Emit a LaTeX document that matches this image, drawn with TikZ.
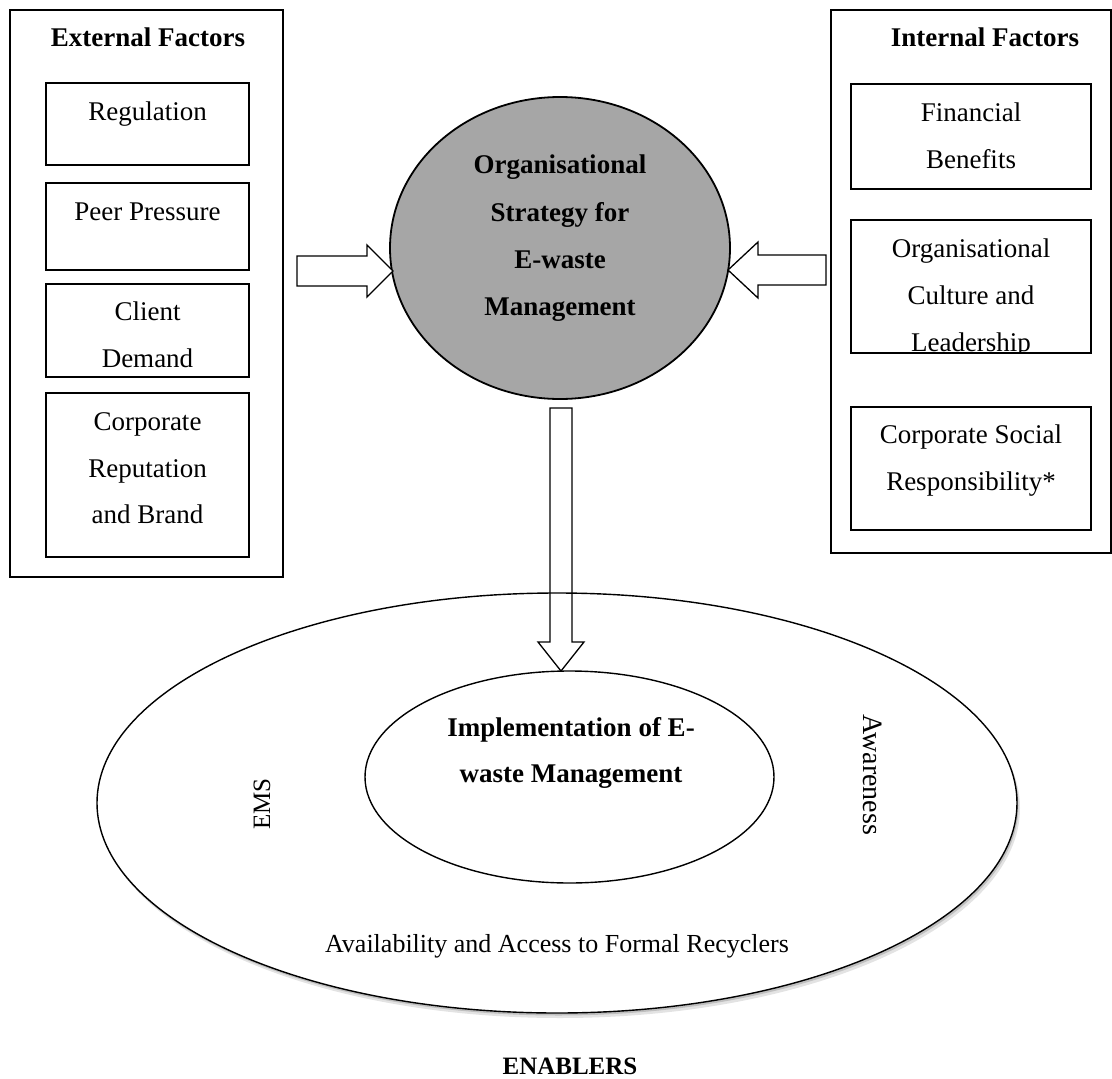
\documentclass[tikz,border=0pt]{standalone}
\usepackage{fontspec}
\setmainfont{Liberation Serif}
\usetikzlibrary{shapes.geometric}
\definecolor{stratgray}{RGB}{166,166,166}
\begin{document}
\begin{tikzpicture}[x=1pt,y=-1pt,
  frame/.style={draw, line width=1.8pt, inner sep=0pt},
  itembox/.style={draw, line width=1.4pt, inner sep=0pt},
  txt/.style={font=\fontsize{27}{47}\selectfont, inner sep=0pt, anchor=base},
  btxt/.style={txt, font=\fontsize{27}{47}\selectfont\bfseries},
  blockarrow/.style={draw, line width=1.3pt, fill=white, line join=miter},
  ring/.style={ellipse, inner sep=0pt, line width=1.4pt},
]
\useasboundingbox (0,0) rectangle (1112,1079);

% ---------- external factors ----------
\node[frame, minimum width=273pt, minimum height=567pt] (ext) at (146.5,293.5) {};
\node[btxt] (extT) at (148,46) {External Factors};
\node[itembox, minimum width=203pt, minimum height=82pt] (reg) at (147.5,124) {};
\node[txt] (regT) at (147.5,120) {Regulation};
\node[itembox, minimum width=203pt, minimum height=87pt] (peer) at (147.5,226.5) {};
\node[txt] (peerT) at (147.5,220) {Peer Pressure};
\node[itembox, minimum width=203pt, minimum height=93pt] (client) at (147.5,330.5) {};
\node[txt] (clientA) at (147.5,320) {Client};
\node[txt] (clientB) at (147.5,367) {Demand};
\node[itembox, minimum width=203pt, minimum height=164pt] (corp) at (147.5,475) {};
\node[txt] (corpA) at (147.5,430) {Corporate};
\node[txt] (corpB) at (147.5,477) {Reputation};
\node[txt] (corpC) at (147.5,523) {and Brand};

% ---------- internal factors ----------
\node[frame, minimum width=280pt, minimum height=543pt] (int) at (971,281.5) {};
\node[btxt] (intT) at (985,46) {Internal Factors};
\node[itembox, minimum width=240pt, minimum height=105pt] (fin) at (971,136.5) {};
\node[txt] (finA) at (971,121) {Financial};
\node[txt] (finB) at (971,168) {Benefits};
\node[itembox, minimum width=240pt, minimum height=133pt] (cult) at (971,286.5) {};
\begin{scope}
  \clip (851,220) rectangle (1091,352);
  \node[txt] (cultA) at (971,257) {Organisational};
  \node[txt] (cultB) at (971,304) {Culture and};
  \node[txt] (cultC) at (971,351) {Leadership};
\end{scope}
\node[itembox, minimum width=240pt, minimum height=123pt] (csr) at (971,468.5) {};
\node[txt] (csrA) at (971,443) {Corporate Social};
\node[txt] (csrB) at (971,490) {Responsibility*};

% ---------- organisational strategy ----------
\node[ellipse, draw, fill=stratgray, line width=1.8pt, inner sep=0pt,
      minimum width=340pt, minimum height=302pt] (strat) at (560,248) {};
\node[btxt] (stratA) at (560,173) {Organisational};
\node[btxt] (stratB) at (560,221) {Strategy for};
\node[btxt] (stratC) at (560,268) {E-waste};
\node[btxt] (stratD) at (560,315) {Management};

% block arrows into the strategy
\coordinate (ltip) at (393,271);
\coordinate (rtip) at (728,270);
\draw[blockarrow] (ltip) -- ++(-26,-26) -- ++(0,11) -- ++(-70,0) -- ++(0,30)
  -- ++(70,0) -- ++(0,11) -- cycle;
\draw[blockarrow] (rtip) -- ++(30,-28) -- ++(0,13) -- ++(68,0) -- ++(0,30)
  -- ++(-68,0) -- ++(0,13) -- cycle;

% ---------- enablers ----------
\fill[gray!22] (560,808) ellipse [x radius=460, y radius=210];
\fill[gray!50] (558.5,805.5) ellipse [x radius=460, y radius=210];
\node[ring, fill=white, minimum width=920pt, minimum height=420pt] (enab) at (557,803) {};

\coordinate (dtip) at (561,671);
\draw[blockarrow] (dtip) -- ++(-23,-29) -- ++(12,0) -- ++(0,-234) -- ++(22,0)
  -- ++(0,234) -- ++(12,0) -- cycle;

\node[ring, draw, minimum width=920pt, minimum height=420pt] (enabL) at (557,803) {};
\node[ring, draw, fill=white, minimum width=409pt, minimum height=212pt] (impl) at (569.5,777) {};
\node[btxt] (implA) at (571,736) {Implementation of E-};
\node[btxt] (implB) at (571,782) {waste Management};

\node[txt, font=\fontsize{25}{30}\selectfont, rotate=90, anchor=center] (ems) at (262,804) {EMS};
\node[txt, font=\fontsize{28}{30}\selectfont, rotate=-90, anchor=center] (aware) at (873,775) {Awareness};
\node[txt, font=\fontsize{26}{30}\selectfont] (recyc) at (557,952) {Availability and Access to Formal Recyclers};
\node[txt, font=\fontsize{25}{30}\selectfont\bfseries] (enabT) at (570,1074) {ENABLERS};
\end{tikzpicture}
\end{document}
